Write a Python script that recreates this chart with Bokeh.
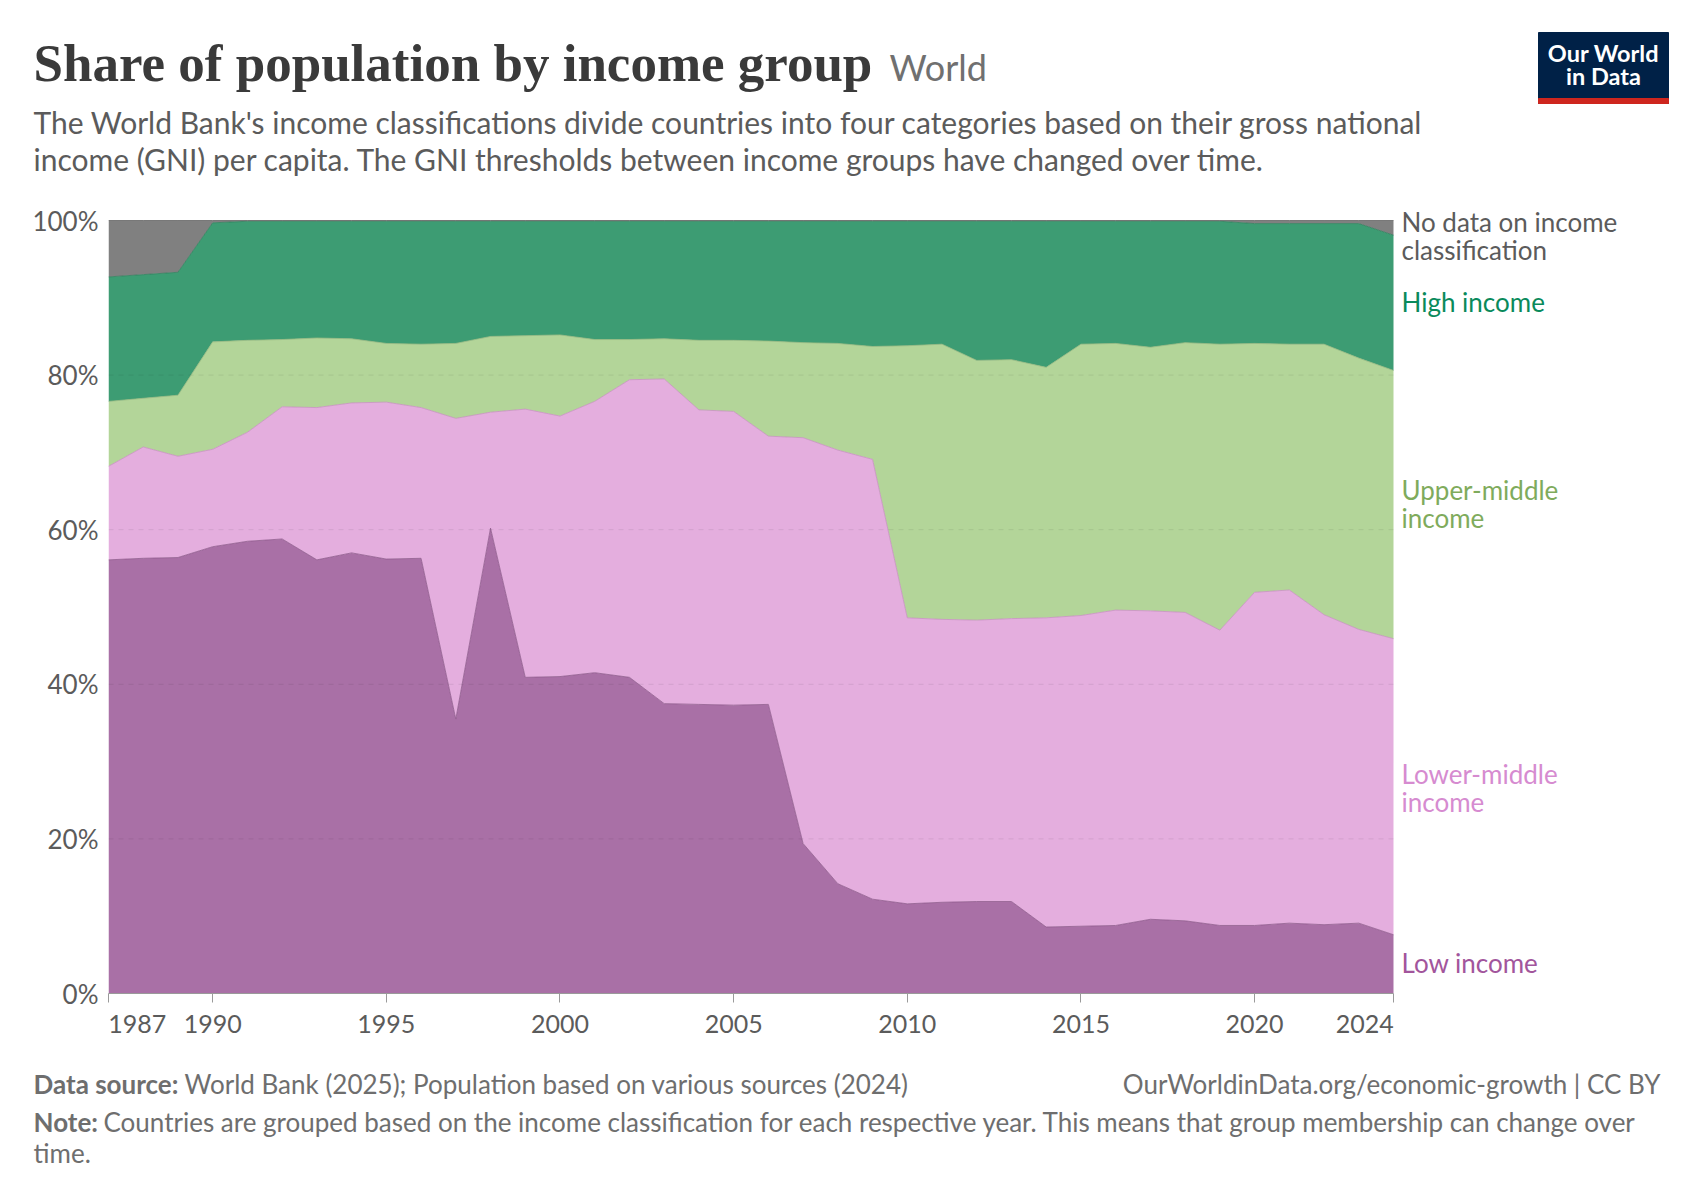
from bokeh.plotting import figure
from bokeh.layouts import column
from bokeh.models import ColumnDataSource, Range1d, FixedTicker, Plot
from bokeh.core.properties import value
from bokeh.embed import file_html
from bokeh.resources import INLINE

# ---------------- data (share of world population, %) ----------------
years = list(range(1987, 2025))
low_income = [56.1, 56.3, 56.4, 57.8, 58.5, 58.8, 56.1, 57.0, 56.2, 56.3,
              35.5, 60.2, 40.9, 41.0, 41.5, 40.9, 37.5, 37.4, 37.3, 37.4,
              19.4, 14.2, 12.2, 11.6, 11.8, 11.9, 11.9, 8.6, 8.7, 8.8,
              9.6, 9.4, 8.8, 8.8, 9.1, 8.9, 9.1, 7.6]
lower_middle = [12.1, 14.4, 13.1, 12.6, 14.1, 17.1, 19.7, 19.4, 20.3, 19.5,
                38.9, 15.0, 34.7, 33.7, 35.1, 38.5, 42.0, 38.1, 38.0, 34.7,
                52.5, 56.1, 56.9, 37.0, 36.6, 36.4, 36.6, 40.0, 40.2, 40.8,
                39.9, 39.9, 38.2, 43.1, 43.1, 40.1, 38.0, 38.3]
upper_middle = [8.4, 6.3, 7.9, 13.9, 11.9, 8.7, 9.0, 8.3, 7.6, 8.2,
                9.7, 9.8, 9.5, 10.5, 8.0, 5.2, 5.2, 9.0, 9.2, 12.3,
                12.3, 13.8, 14.6, 35.2, 35.6, 33.6, 33.5, 32.4, 35.1, 34.5,
                34.1, 34.9, 37.0, 32.2, 31.8, 35.0, 35.1, 34.7]
high_income = [16.1, 16.0, 15.9, 15.4, 15.4, 15.3, 15.1, 15.2, 15.8, 15.9,
               15.8, 14.9, 14.8, 14.7, 15.3, 15.3, 15.2, 15.4, 15.4, 15.5,
               15.7, 15.8, 16.2, 16.1, 15.9, 18.0, 17.9, 18.9, 15.9, 15.8,
               16.3, 15.7, 15.9, 15.5, 15.6, 15.6, 17.4, 17.5]
no_data = [7.3, 7.0, 6.7, 0.3, 0.1, 0.1, 0.1, 0.1, 0.1, 0.1,
           0.1, 0.1, 0.1, 0.1, 0.1, 0.1, 0.1, 0.1, 0.1, 0.1,
           0.1, 0.1, 0.1, 0.1, 0.1, 0.1, 0.1, 0.1, 0.1, 0.1,
           0.1, 0.1, 0.1, 0.4, 0.4, 0.4, 0.4, 1.9]

series_keys = ["low", "lm", "um", "high", "nodata"]
series_labels = ["Low income", "Lower-middle\nincome", "Upper-middle\nincome",
                 "High income", "No data on income\nclassification"]
x_ticks = [1987, 1990, 1995, 2000, 2005, 2010, 2015, 2020, 2024]
y_ticks = [0, 20, 40, 60, 80, 100]
grid_ticks = [20, 40, 60, 80]

title_text = "Share of population by income group"
entity_text = "World"
subtitle_lines = [
    "The World Bank's income classifications divide countries into four categories based on their gross national",
    "income (GNI) per capita. The GNI thresholds between income groups have changed over time.",
]
source_label = "Data source:"
source_text = "World Bank (2025); Population based on various sources (2024)"
url_text = "OurWorldinData.org/economic-growth | CC BY"
note_label = "Note:"
note_lines = [
    "Countries are grouped based on the income classification for each respective year. This means that group membership can change over",
    "time.",
]

# ---------------- styling / layout ----------------
fill_colors = ["#a970a6", "#e4aede", "#b3d599", "#3d9c73", "#808080"]
edge_colors = ["#8f5a8c", "#c88fc2", "#98ba80", "#2f7f5c", "#666666"]
label_colors = ["#a2559c", "#d68bd0", "#7fab5c", "#0a8a5b", "#5b5b5b"]
label_first_line_y = [962, 773, 489, 301, 221]   # page pixels
LABEL_LINE_GAP = 28

W = 1684
HEAD_H, MAIN_TOP, MAIN_H = 200, 200, 860
FOOT_TOP, FOOT_H = 1060, 124
FL, FR, FT, FB = 108, 1393, 220, 993          # plot frame on the page
X0, X1 = 1987, 2024
PX_X = (FR - FL) / (X1 - X0)
PX_Y = (FB - FT) / 100.0

FONT = value("Lato")
GREY = "#5b5b5b"
NO_ALIGN = {"frame_align": False} if "frame_align" in Plot.properties() else {}


def bare(height, y_top):
    f = figure(width=W, height=height, output_backend="svg", toolbar_location=None,
               x_range=Range1d(0, W), y_range=Range1d(y_top + height, y_top),
               x_axis_type=None, y_axis_type=None, min_border=0, **NO_ALIGN)
    f.grid.visible = False
    f.outline_line_color = None
    f.background_fill_color = "white"
    f.border_fill_color = "white"
    return f


# ---------------- header ----------------
head = bare(HEAD_H, 0)
head.text(x=[33], y=[62], text=[title_text], text_font=value("Liberation Serif"),
          text_font_style="bold", text_font_size=value("53px"), text_color="#3a3a3a",
          text_align="left", text_baseline="middle")
head.text(x=[889], y=[66], text=[entity_text], text_font=FONT,
          text_font_size=value("36px"), text_color="#707070",
          text_align="left", text_baseline="middle")
head.text(x=[33, 33], y=[121, 158], text=subtitle_lines, text_font=FONT,
          text_font_size=value("30px"), text_color=GREY,
          text_align="left", text_baseline="middle")
# logo
head.quad(left=[1538], right=[1668], top=[32], bottom=[103], color="#002147")
head.quad(left=[1538], right=[1668], top=[98], bottom=[103], color="#ce261e")
head.text(x=[1603, 1603], y=[52, 75], text=["Our World", "in Data"], text_font=FONT,
          text_font_style="bold", text_font_size=value("23.5px"), text_color="white",
          text_align="center", text_baseline="middle")

# ---------------- main chart ----------------
x_end = X0 + (W - FL) / PX_X
y_top = (FB - MAIN_TOP) / PX_Y

p = figure(width=W, height=MAIN_H, output_backend="svg", toolbar_location=None,
           x_range=Range1d(X0, x_end), y_range=Range1d(0, y_top),
           min_border_left=FL, min_border_right=0, min_border_top=0,
           min_border_bottom=MAIN_H - (FB - MAIN_TOP), **NO_ALIGN)
p.outline_line_color = None
p.background_fill_color = "white"
p.border_fill_color = "white"
p.grid.visible = False

source = ColumnDataSource(dict(year=years, low=low_income, lm=lower_middle,
                               um=upper_middle, high=high_income, nodata=no_data))
p.varea_stack(stackers=series_keys, x="year", color=fill_colors, source=source)
p.vline_stack(stackers=series_keys, x="year", color=edge_colors, line_width=1,
              line_alpha=0.8, source=source)

# dashed horizontal grid drawn over the areas
p.segment(x0=[X0] * len(grid_ticks), x1=[X1] * len(grid_ticks), y0=grid_ticks,
          y1=grid_ticks, line_color="#000000", line_alpha=0.08, line_width=1,
          line_dash="5 5")

# first label starts at its tick, last label ends at its tick
NBSP = "\u00a0"
x_label_overrides = {t: str(t) for t in x_ticks}
x_label_overrides[x_ticks[0]] = NBSP * 9 + str(x_ticks[0])
x_label_overrides[x_ticks[-1]] = str(x_ticks[-1]) + NBSP * 9

p.xaxis.ticker = FixedTicker(ticks=x_ticks)
p.xaxis.major_label_overrides = x_label_overrides
p.xaxis.bounds = (X0, X1)
p.xaxis.axis_line_color = "#9a9a9a"
p.xaxis.major_tick_line_color = "#9a9a9a"
p.xaxis.major_tick_out = 9
p.xaxis.major_tick_in = 0
p.xaxis.minor_tick_line_color = None
p.xaxis.major_label_text_font = "Lato"
p.xaxis.major_label_text_font_size = "25px"
p.xaxis.major_label_text_color = GREY
p.xaxis.major_label_standoff = 5

p.yaxis.ticker = FixedTicker(ticks=y_ticks)
p.yaxis.major_label_overrides = {t: f"{t}%" for t in y_ticks}
p.yaxis.axis_line_color = None
p.yaxis.major_tick_line_color = None
p.yaxis.major_tick_out = 0
p.yaxis.major_tick_in = 0
p.yaxis.minor_tick_line_color = None
p.yaxis.major_label_text_font = "Lato"
p.yaxis.major_label_text_font_size = "26px"
p.yaxis.major_label_text_color = GREY
p.yaxis.major_label_standoff = 10

# right-hand series labels
lab_x, lab_y, lab_t, lab_c = [], [], [], []
for txt, col, y0 in zip(series_labels, label_colors, label_first_line_y):
    for i, line in enumerate(txt.split("\n")):
        lab_x.append(X0 + (1401 - FL) / PX_X)
        lab_y.append((FB - (y0 + i * LABEL_LINE_GAP)) / PX_Y)
        lab_t.append(line)
        lab_c.append(col)
p.text(x=lab_x, y=lab_y, text=lab_t, text_color=lab_c, text_font=FONT,
       text_font_size=value("26px"), text_align="left", text_baseline="middle")

# ---------------- footer ----------------
foot = bare(FOOT_H, FOOT_TOP)
FOOT_COL = "#6e6e6e"
foot.text(x=[33, 33], y=[1083, 1121], text=[source_label, note_label], text_font=FONT,
          text_font_style="bold", text_font_size=value("26px"), text_color=FOOT_COL,
          text_align="left", text_baseline="middle")
foot.text(x=[184, 103, 33], y=[1083, 1121, 1152],
          text=[source_text, note_lines[0], note_lines[1]], text_font=FONT,
          text_font_size=value("26px"), text_color=FOOT_COL,
          text_align="left", text_baseline="middle")
foot.text(x=[1660], y=[1083], text=[url_text], text_font=FONT,
          text_font_size=value("26px"), text_color=FOOT_COL,
          text_align="right", text_baseline="middle")

layout = column(head, p, foot, spacing=0)
open("out.html", "w").write(file_html(layout, INLINE))
